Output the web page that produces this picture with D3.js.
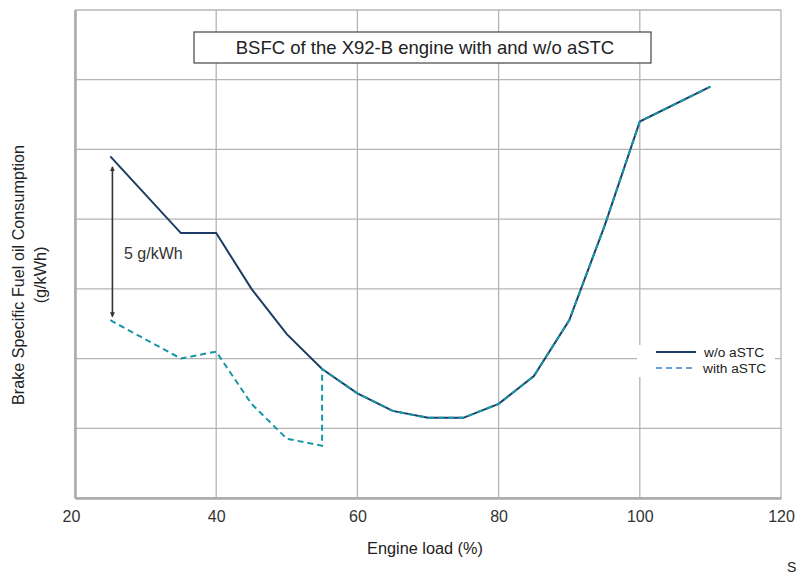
<!DOCTYPE html>
<html>
<head>
<meta charset="utf-8">
<script src="https://cdn.jsdelivr.net/npm/d3@7"></script>
<style>
  body { margin: 0; background: #fff; }
  svg { display: block; font-family: "Liberation Sans", Arial, sans-serif; }
</style>
</head>
<body>
<svg id="chart" width="798" height="576"></svg>
<script>
// ---- data ----
const loadTicks = [20, 40, 60, 80, 100, 120];
const bsfcGrid = [160, 162, 164, 166, 168, 170, 172, 174];

const loadWithout = [25, 35, 40, 45, 50, 55, 60, 65, 70, 75, 80, 85, 90, 95, 100, 110];
const bsfcWithout = [169.8, 167.6, 167.6, 166.0, 164.7, 163.7, 163.0, 162.5, 162.3, 162.3, 162.7, 163.5, 165.1, 167.8, 170.8, 171.8];

const loadWith = [25, 35, 40, 45, 50, 55, 55, 60, 65, 70, 75, 80, 85, 90, 95, 100, 110];
const bsfcWith = [165.1, 164.0, 164.2, 162.7, 161.7, 161.5, 163.7, 163.0, 162.5, 162.3, 162.3, 162.7, 163.5, 165.1, 167.8, 170.8, 171.8];

const seriesNames = ["w/o aSTC", "with aSTC"];
const titleText = "BSFC of the X92-B engine with and w/o aSTC";
const xTitle = "Engine load (%)";
const yTitle = ["Brake Specific Fuel oil Consumption", "(g/kWh)"];
const deltaLabel = "5 g/kWh";
const deltaLoad = 25.3;
const deltaFrom = 169.5, deltaTo = 165.2;

// ---- layout ----
const svg = d3.select("#chart");
const mLeft = 75, mRight = 781, mTop = 10, mBottom = 498;
const x = d3.scaleLinear().domain([20, 120]).range([mLeft, mRight]);
const y = d3.scaleLinear().domain([160, 174]).range([mBottom, mTop]);

const gridColor = "#b4b4b4";
const navy = "#1d3b64";
const teal = "#1597a5";

// grid
const g = svg.append("g");
g.selectAll("line.h").data(bsfcGrid).join("line").attr("class", "h")
  .attr("x1", mLeft).attr("x2", mRight)
  .attr("y1", d => y(d)).attr("y2", d => y(d))
  .attr("stroke", gridColor).attr("stroke-width", 1.3);
g.selectAll("line.v").data(loadTicks).join("line").attr("class", "v")
  .attr("y1", mTop).attr("y2", mBottom)
  .attr("x1", d => x(d)).attr("x2", d => x(d))
  .attr("stroke", gridColor).attr("stroke-width", 1.3);

// axes
const xAxis = d3.axisBottom(x).tickValues(loadTicks).tickSize(0).tickPadding(13);
const xa = svg.append("g").attr("transform", `translate(0,${mBottom})`).call(xAxis);
xa.select(".domain").attr("stroke", "#aaaaaa").attr("stroke-width", 2.5);
xa.selectAll("text").attr("font-size", 16).attr("fill", "#333").attr("font-family", "Liberation Sans, Arial, sans-serif")
  .attr("dx", (d, i) => i === 0 ? -4 : 0);
const ya = svg.append("g").attr("transform", `translate(${mLeft},0)`).call(d3.axisLeft(y).tickValues([]).tickSize(0));
ya.select(".domain").attr("stroke", "#aaaaaa").attr("stroke-width", 2.5);

// lines
const lineGen = d3.line().x(d => x(d[0])).y(d => y(d[1]));
const dWithout = loadWithout.map((v, i) => [v, bsfcWithout[i]]);
const dWith = loadWith.map((v, i) => [v, bsfcWith[i]]);
svg.append("path").datum(dWithout).attr("d", lineGen)
  .attr("fill", "none").attr("stroke", navy).attr("stroke-width", 2);
svg.append("path").datum(dWith).attr("d", lineGen)
  .attr("fill", "none").attr("stroke", teal).attr("stroke-width", 2)
  .attr("stroke-dasharray", "6,4");

// title box
const tb = svg.append("g");
tb.append("rect").attr("x", 194).attr("y", 32).attr("width", 457).attr("height", 31)
  .attr("fill", "#fff").attr("stroke", "#444").attr("stroke-width", 1.2);
tb.append("text").attr("x", 425).attr("y", 54).attr("text-anchor", "middle")
  .attr("font-size", 18.5).attr("fill", "#222").text(titleText);

// delta arrow
const defs = svg.append("defs");
defs.append("marker").attr("id", "ah").attr("viewBox", "0 0 10 10")
  .attr("refX", 9).attr("refY", 5).attr("markerWidth", 5).attr("markerHeight", 6)
  .attr("orient", "auto-start-reverse").attr("markerUnits", "userSpaceOnUse")
  .append("path").attr("d", "M0,0 L10,5 L0,10 Z").attr("fill", "#333");
svg.append("line").attr("x1", x(deltaLoad)).attr("x2", x(deltaLoad))
  .attr("y1", y(deltaFrom)).attr("y2", y(deltaTo))
  .attr("stroke", "#333").attr("stroke-width", 1.6)
  .attr("marker-start", "url(#ah)").attr("marker-end", "url(#ah)");
svg.append("text").attr("x", 124).attr("y", 259).attr("font-size", 16).attr("fill", "#333").text(deltaLabel);

// legend
const lg = svg.append("g");
lg.append("rect").attr("x", 637).attr("y", 345).attr("width", 138).attr("height", 32).attr("fill", "#fff");
lg.append("line").attr("x1", 656).attr("x2", 696).attr("y1", 352).attr("y2", 352)
  .attr("stroke", navy).attr("stroke-width", 2);
lg.append("line").attr("x1", 656).attr("x2", 696).attr("y1", 368).attr("y2", 368)
  .attr("stroke", "#6b9fd8").attr("stroke-width", 2).attr("stroke-dasharray", "6,4");
lg.append("text").attr("x", 704).attr("y", 357).attr("font-size", 13.7).attr("fill", "#222").text(seriesNames[0]);
lg.append("text").attr("x", 703).attr("y", 373).attr("font-size", 13.7).attr("fill", "#222").text(seriesNames[1]);

// axis titles
svg.append("text").attr("x", 425).attr("y", 554).attr("text-anchor", "middle")
  .attr("font-size", 16.3).attr("fill", "#222").text(xTitle);
yTitle.forEach((t, i) => {
  svg.append("text").attr("transform", `translate(${24 + i * 22},275) rotate(-90)`)
    .attr("text-anchor", "middle").attr("font-size", 16.2).attr("fill", "#222").text(t);
});

// source note (cut off at the right edge in the original)
svg.append("text").attr("x", 787).attr("y", 572).attr("font-size", 14).attr("fill", "#222").text("S");
</script>
</body>
</html>
